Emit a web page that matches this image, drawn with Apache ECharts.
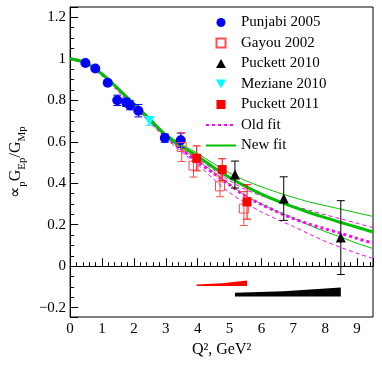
<!DOCTYPE html>
<html>
<head>
<meta charset="utf-8">
<script src="https://cdn.jsdelivr.net/npm/echarts@6/dist/echarts.min.js"></script>
<style>
  html, body { margin: 0; padding: 0; background: #fff; }
  #chart { width: 382px; height: 370px; }
</style>
</head>
<body>
<div id="chart"></div>
<script>
// data: Q^2 (GeV^2), ratio, error
const punjabiQ2 = [0.48, 0.79, 1.18, 1.48, 1.76, 1.88, 2.14, 2.97, 3.47];
const punjabiR = [0.980, 0.953, 0.885, 0.800, 0.790, 0.776, 0.750, 0.618, 0.607];
const punjabiErr = [0.006, 0.008, 0.010, 0.025, 0.020, 0.022, 0.030, 0.020, 0.035];

const gayouQ2 = [3.50, 3.87, 4.70, 5.45];
const gayouR = [0.575, 0.485, 0.385, 0.278];
const gayouErr = [0.070, 0.055, 0.050, 0.082];

const puckett10Q2 = [5.17, 6.70, 8.49];
const puckett10R = [0.442, 0.326, 0.138];
const puckett10Err = [0.065, 0.105, 0.178];

const mezianeQ2 = [2.49];
const mezianeR = [0.700];
const mezianeErr = [0.020];

const puckett11Q2 = [3.97, 4.77, 5.55];
const puckett11R = [0.520, 0.466, 0.310];
const puckett11Err = [0.060, 0.052, 0.083];

// fit curves
const fitQ2 = [0, 0.5, 1, 1.5, 2, 2.5, 3, 3.5, 4, 4.5, 5, 5.5, 6, 6.5, 7, 7.5, 8, 8.5, 9, 9.5];
const newFit   = [1.0, 0.980, 0.927, 0.857, 0.783, 0.708, 0.632, 0.577, 0.530, 0.476, 0.428, 0.385, 0.348, 0.315, 0.286, 0.259, 0.234, 0.211, 0.188, 0.165];
const newFitHi = [1.0, 0.981, 0.929, 0.860, 0.787, 0.714, 0.640, 0.588, 0.544, 0.495, 0.450, 0.413, 0.383, 0.356, 0.332, 0.310, 0.292, 0.275, 0.257, 0.240];
const newFitLo = [1.0, 0.979, 0.925, 0.854, 0.779, 0.702, 0.624, 0.565, 0.510, 0.455, 0.395, 0.340, 0.300, 0.264, 0.232, 0.198, 0.167, 0.140, 0.110, 0.085];
const oldFit   = [1.0, 0.979, 0.924, 0.852, 0.777, 0.701, 0.626, 0.563, 0.503, 0.448, 0.393, 0.338, 0.298, 0.262, 0.230, 0.203, 0.180, 0.158, 0.134, 0.111];
const oldFitHi = [1.0, 0.980, 0.926, 0.855, 0.781, 0.706, 0.634, 0.575, 0.518, 0.465, 0.413, 0.370, 0.340, 0.313, 0.290, 0.270, 0.248, 0.228, 0.207, 0.186];
const oldFitLo = [1.0, 0.978, 0.922, 0.849, 0.773, 0.696, 0.618, 0.551, 0.490, 0.420, 0.355, 0.305, 0.262, 0.225, 0.192, 0.155, 0.120, 0.090, 0.062, 0.037];

// systematic error bands
const sys11Q2 = [3.97, 4.77, 5.55];
const sys11Top = [-0.088, -0.082, -0.069];
const sys11Base = -0.095;
const sys10Q2 = [5.17, 6.70, 8.49];
const sys10Top = [-0.128, -0.121, -0.103];
const sys10Base = -0.146;

const FONT = "Liberation Serif";
const GREEN = "#00c000";
const MAGENTA = "#ff00ff";
const SQUARE = "path://M0,0 L10,0 L10,10 L0,10 Z";
const TRI_UP = "path://M5,0 L10,9 L0,9 Z";
const TRI_DOWN = "path://M0,0 L10,0 L5,9 Z";

const chart = echarts.init(document.getElementById("chart"));

const pts = (q, r) => q.map((x, i) => [x, r[i]]);
const errs = (q, r, e) => q.map((x, i) => [x, r[i] - e[i], r[i] + e[i]]);

function errorBars(name, data, color) {
  return {
    name: name,
    type: "custom",
    z: 3,
    silent: true,
    data: data,
    encode: { x: 0, y: [1, 2] },
    renderItem: function (params, api) {
      const lo = api.coord([api.value(0), api.value(1)]);
      const hi = api.coord([api.value(0), api.value(2)]);
      const st = { stroke: color, lineWidth: 1 };
      return {
        type: "group",
        children: [
          { type: "line", shape: { x1: lo[0], y1: lo[1], x2: hi[0], y2: hi[1] }, style: st },
          { type: "line", shape: { x1: lo[0] - 4, y1: lo[1], x2: lo[0] + 4, y2: lo[1] }, style: st },
          { type: "line", shape: { x1: hi[0] - 4, y1: hi[1], x2: hi[0] + 4, y2: hi[1] }, style: st }
        ]
      };
    }
  };
}

function band(name, q, top, base, color) {
  return {
    name: name,
    type: "custom",
    silent: true,
    data: pts(q, top),
    renderItem: function (params, api) {
      if (params.dataIndex !== 0) return null;
      const p = [];
      q.forEach((x, i) => p.push(api.coord([x, top[i]])));
      for (let i = q.length - 1; i >= 0; i--) p.push(api.coord([q[i], base]));
      return { type: "polygon", shape: { points: p }, style: { fill: color } };
    }
  };
}

function fitLine(name, y, color, width, dash, z) {
  return {
    name: name,
    type: "line",
    data: pts(fitQ2, y),
    smooth: 0.3,
    symbol: "none",
    showSymbol: false,
    silent: true,
    z: z || 2,
    // keeps the legend marker invisible, only the line is shown
    itemStyle: { color: "rgba(0,0,0,0)", borderColor: "rgba(0,0,0,0)", borderWidth: 0 },
    lineStyle: { color: color, width: width, type: dash }
  };
}

const yName = "{m|∝}{s|p}{m|G}{s|Ep}{m|/G}{s|Mp}";

chart.setOption({
  animation: false,
  grid: { left: 53, right: 9, top: 7, bottom: 53, show: true, borderColor: "#000", borderWidth: 1, backgroundColor: "transparent" },
  legend: {
    orient: "vertical",
    left: 205,
    top: 15,
    padding: 0,
    itemWidth: 30,
    itemHeight: 9,
    itemGap: 5.5,
    selectedMode: false,
    textStyle: { fontFamily: FONT, fontSize: 15, color: "#000", lineHeight: 14 },
    data: ["Punjabi 2005", "Gayou 2002", "Puckett 2010", "Meziane 2010", "Puckett 2011", "Old fit", "New fit"]
  },
  xAxis: {
    type: "value",
    min: 0,
    max: 9.5,
    interval: 1,
    name: "Q², GeV²",
    nameLocation: "middle",
    nameGap: 15,
    nameTextStyle: { fontFamily: FONT, fontSize: 16, color: "#000" },
    axisLine: { lineStyle: { color: "#000", width: 1 } },
    axisTick: { inside: true, length: 8, lineStyle: { color: "#000" } },
    minorTick: { show: true, splitNumber: 5, length: 4, lineStyle: { color: "#000" } },
    splitLine: { show: false },
    axisLabel: {
      fontFamily: FONT, fontSize: 15, color: "#000", margin: 5,
      showMaxLabel: false,
      formatter: v => String(Math.round(v))
    }
  },
  yAxis: {
    type: "value",
    min: -0.245,
    max: 1.25,
    splitNumber: 7,
    name: yName,
    nameLocation: "middle",
    nameRotate: 90,
    nameGap: 28,
    nameTextStyle: {
      color: "#000",
      rich: {
        m: { fontFamily: FONT, fontSize: 16, lineHeight: 16, color: "#000", verticalAlign: "bottom", padding: [0, 0, 4, 0] },
        s: { fontFamily: FONT, fontSize: 11, lineHeight: 11, color: "#000", verticalAlign: "bottom" }
      }
    },
    axisLine: { show: true, lineStyle: { color: "#000", width: 1 } },
    axisTick: { inside: true, length: 8, lineStyle: { color: "#000" } },
    minorTick: { show: true, splitNumber: 4, length: 4, lineStyle: { color: "#000" } },
    splitLine: { show: false },
    axisLabel: {
      fontFamily: FONT, fontSize: 15, color: "#000", margin: 4,
      showMinLabel: false,
      showMaxLabel: false,
      formatter: function (v) {
        if (Math.abs(v) < 1e-9) return "0";
        return String(Math.round(v * 10) / 10).replace("-", "\u2212");
      }
    }
  },
  series: [
    band("sys 2011", sys11Q2, sys11Top, sys11Base, "#ff0000"),
    band("sys 2010", sys10Q2, sys10Top, sys10Base, "#000000"),
    fitLine("old hi", oldFitHi, MAGENTA, 1, [4, 3]),
    fitLine("old lo", oldFitLo, MAGENTA, 1, [4, 3]),
    fitLine("new hi", newFitHi, GREEN, 1, "solid"),
    fitLine("new lo", newFitLo, GREEN, 1, "solid"),
    fitLine("Old fit", oldFit, MAGENTA, 3, [3, 3]),
    Object.assign(fitLine("New fit", newFit, GREEN, 3, "solid"), {
      markLine: {
        silent: true,
        symbol: "none",
        label: { show: false },
        lineStyle: { color: "#000", width: 1, type: "solid" },
        data: [{ yAxis: 0 }]
      }
    }),
    errorBars("err punjabi", errs(punjabiQ2, punjabiR, punjabiErr), "#0000ff"),
    errorBars("err gayou", errs(gayouQ2, gayouR, gayouErr), "#ff4c4c"),
    errorBars("err puckett10", errs(puckett10Q2, puckett10R, puckett10Err), "#000000"),
    errorBars("err meziane", errs(mezianeQ2, mezianeR, mezianeErr), "#00e0e0"),
    errorBars("err puckett11", errs(puckett11Q2, puckett11R, puckett11Err), "#ff0000"),
    {
      name: "Punjabi 2005", type: "scatter", z: 4, symbol: "circle", symbolSize: 10,
      itemStyle: { color: "#0000ff", opacity: 1 },
      data: pts(punjabiQ2, punjabiR)
    },
    {
      name: "Gayou 2002", type: "scatter", z: 4, symbol: SQUARE, symbolSize: 9,
      itemStyle: { color: "rgba(255,255,255,0)", borderColor: "#ff4c4c", borderWidth: 1, opacity: 1 },
      data: pts(gayouQ2, gayouR)
    },
    {
      name: "Puckett 2010", type: "scatter", z: 4, symbol: TRI_UP, symbolSize: 10,
      itemStyle: { color: "#000000", opacity: 1 },
      data: pts(puckett10Q2, puckett10R)
    },
    {
      name: "Meziane 2010", type: "scatter", z: 4, symbol: TRI_DOWN, symbolSize: 10,
      itemStyle: { color: "#00ffff", opacity: 1 },
      data: pts(mezianeQ2, mezianeR)
    },
    {
      name: "Puckett 2011", type: "scatter", z: 4, symbol: SQUARE, symbolSize: 9,
      itemStyle: { color: "#ff0000", opacity: 1 },
      data: pts(puckett11Q2, puckett11R)
    }
  ]
});

window.onresize = function () {
  chart.resize();
};
</script>
</body>
</html>
